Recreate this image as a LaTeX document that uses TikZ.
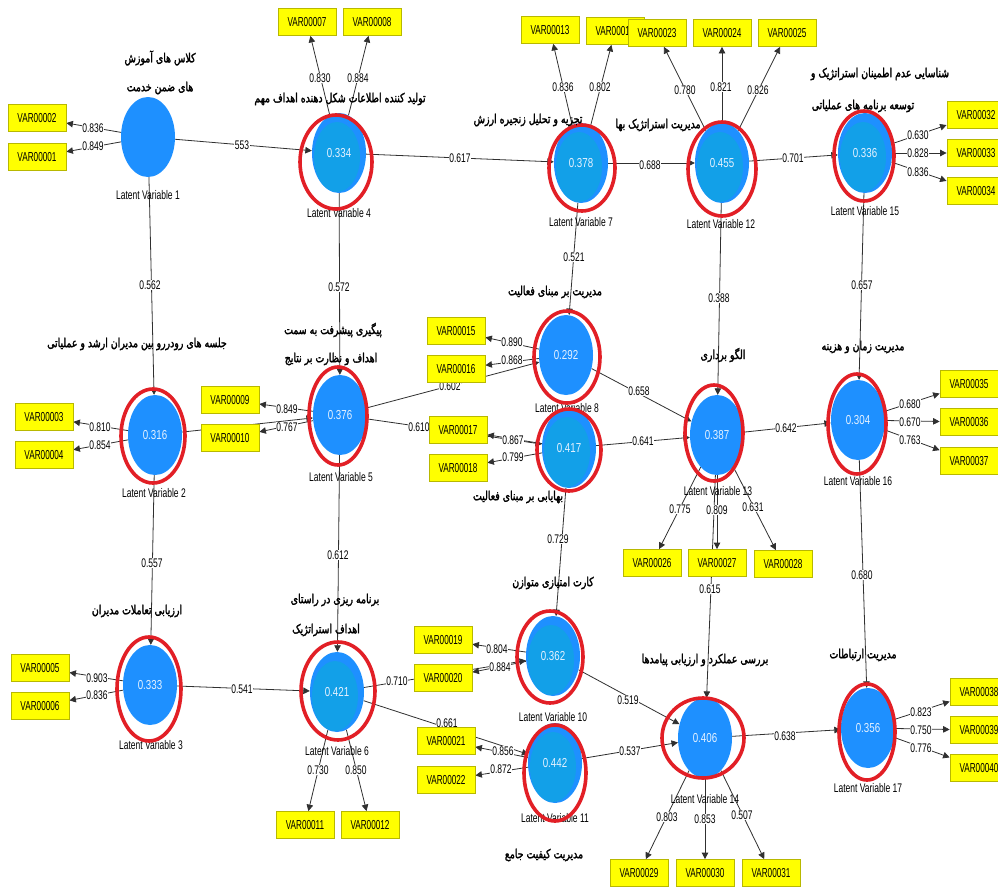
\documentclass[tikz,border=0pt]{standalone}
\usepackage{fontspec}
\usetikzlibrary{shapes.geometric,arrows.meta}
\TeXXeTstate=1
\newfontfamily\uifont[FakeStretch=0.68]{Liberation Sans}
\newfontfamily\varfont[FakeStretch=0.63]{Liberation Sans}
\newfontfamily\valfont[FakeStretch=0.75]{Liberation Sans}
\newfontfamily\fafont[Script=Arabic,FakeBold=2,FakeStretch=0.75]{DejaVu Sans}
\definecolor{lvblue}{HTML}{1E90FF}
\definecolor{lvinner}{HTML}{12A0E8}
\definecolor{ringred}{HTML}{E21F26}
\definecolor{boxyel}{HTML}{FFFF00}
\definecolor{boxedge}{HTML}{B8B800}
\definecolor{linegray}{HTML}{303030}
\definecolor{valtext}{HTML}{E6F2FF}
\pgfdeclarelayer{bg}
\pgfsetlayers{bg,main}
\begin{document}
\begin{tikzpicture}[x=1pt,y=-1pt,
 lv/.style={ellipse, fill=lvblue, minimum width=54pt, minimum height=80pt, inner sep=0pt, font=\valfont\fontsize{13}{14}\selectfont, text=valtext},
 lvi/.style={lv, path picture={\fill[lvinner] ([xshift=-2pt,yshift=-4pt]path picture bounding box.center) ellipse [x radius=23pt, y radius=35pt];}},
 var/.style={rectangle, fill=boxyel, draw=boxedge, line width=0.8pt, minimum width=58pt, minimum height=27pt, inner sep=0pt, font=\varfont\fontsize{13}{14}\selectfont},
 lvname/.style={font=\uifont\fontsize{12.5}{13}\selectfont, inner sep=0pt},
 coef/.style={fill=white, inner sep=0.6pt, font=\uifont\fontsize{12.5}{13}\selectfont},
 fa/.style={font=\fafont\fontsize{12.5}{14}\selectfont, inner sep=0pt},
 conn/.style={draw=linegray, line width=0.8pt, -{Triangle[length=6.5pt,width=6.5pt]}},
 ring/.style={draw=ringred, line width=3.6pt},
]
\useasboundingbox (0,0) rectangle (998,886);
\begin{pgfonlayer}{bg}
\fill[white] (0,0) rectangle (998,886);
\end{pgfonlayer}

% structural coefficients
\node[coef] (c1) at (242,145) {553};
\node[coef] (c2) at (460,158) {0.617};
\node[coef] (c3) at (650,165) {0.688};
\node[coef] (c4) at (793,158) {0.701};
\node[coef] (c5) at (150,285) {0.562};
\node[coef] (c6) at (152,563) {0.557};
\node[coef] (c7) at (242,689) {0.541};
\node[coef] (c8) at (339,287) {0.572};
\node[coef] (c9) at (338,555) {0.612};
\node[coef] (c10) at (450,386) {0.602};
\node[coef] (c11) at (419,427) {0.610};
\node[coef] (c12) at (574,257) {0.521};
\node[coef] (c13) at (639,391) {0.658};
\node[coef] (c14) at (643,441) {0.641};
\node[coef] (c15) at (719,298) {0.388};
\node[coef] (c16) at (862,285) {0.657};
\node[coef] (c17) at (786,428) {0.642};
\node[coef] (c18) at (558,539) {0.729};
\node[coef] (c19) at (397,681) {0.710};
\node[coef] (c20) at (447,723) {0.661};
\node[coef] (c21) at (628,700) {0.519};
\node[coef] (c22) at (630,751) {0.537};
\node[coef] (c23) at (710,589) {0.615};
\node[coef] (c24) at (785,736) {0.638};
\node[coef] (c25) at (862,575) {0.680};

% loadings
\node[coef] (d1) at (93,128) {0.836};
\node[coef] (d2) at (93,146) {0.849};
\node[coef] (d3) at (320,78) {0.830};
\node[coef] (d4) at (358,78) {0.884};
\node[coef] (d5) at (563,87) {0.836};
\node[coef] (d6) at (600,87) {0.802};
\node[coef] (d7) at (685,90) {0.780};
\node[coef] (d8) at (721,87) {0.821};
\node[coef] (d9) at (758,90) {0.826};
\node[coef] (d10) at (918,135) {0.630};
\node[coef] (d11) at (918,153) {0.828};
\node[coef] (d12) at (918,172) {0.836};
\node[coef] (d13) at (100,427) {0.810};
\node[coef] (d14) at (100,445) {0.854};
\node[coef] (d15) at (287,409) {0.849};
\node[coef] (d16) at (287,427) {0.767};
\node[coef] (d17) at (512,342) {0.890};
\node[coef] (d18) at (512,360) {0.868};
\node[coef] (d19) at (513,440) {0.867};
\node[coef] (d20) at (513,457) {0.799};
\node[coef] (d21) at (680,509) {0.775};
\node[coef] (d22) at (717,510) {0.809};
\node[coef] (d23) at (753,507) {0.631};
\node[coef] (d24) at (910,404) {0.680};
\node[coef] (d25) at (910,422) {0.670};
\node[coef] (d26) at (910,440) {0.763};
\node[coef] (d27) at (97,678) {0.903};
\node[coef] (d28) at (97,695) {0.836};
\node[coef] (d29) at (318,770) {0.730};
\node[coef] (d30) at (356,770) {0.850};
\node[coef] (d31) at (497,649) {0.804};
\node[coef] (d32) at (500,667) {0.884};
\node[coef] (d33) at (503,751) {0.856};
\node[coef] (d34) at (501,769) {0.872};
\node[coef] (d35) at (667,817) {0.803};
\node[coef] (d36) at (705,819) {0.853};
\node[coef] (d37) at (742,815) {0.507};
\node[coef] (d38) at (921,712) {0.823};
\node[coef] (d39) at (921,730) {0.750};
\node[coef] (d40) at (921,748) {0.776};

% latent variable names
\node[lvname] (n1) at (148,195) {Latent Variable 1};
\node[lvname] (n4) at (339,213) {Latent Variable 4};
\node[lvname] (n7) at (581,222) {Latent Variable 7};
\node[lvname] (n12) at (721,224) {Latent Variable 12};
\node[lvname] (n15) at (865,211) {Latent Variable 15};
\node[lvname] (n2) at (154,493) {Latent Variable 2};
\node[lvname] (n5) at (341,477) {Latent Variable 5};
\node[lvname] (n8) at (567,408) {Latent Variable 8};
\node[lvname] (n13) at (718,491) {Latent Variable 13};
\node[lvname] (n16) at (858,481) {Latent Variable 16};
\node[lvname] (n3) at (151,745) {Latent Variable 3};
\node[lvname] (n6) at (337,751) {Latent Variable 6};
\node[lvname] (n10) at (553,717) {Latent Variable 10};
\node[lvname] (n11) at (555,818) {Latent Variable 11};
\node[lvname] (n14) at (705,799) {Latent Variable 14};
\node[lvname] (n17) at (868,788) {Latent Variable 17};

% latent variables
\node[lv] (L1) at (148,137) {};
\node[lvi] (L4) at (339,153) {0.334};
\node[lvi] (L7) at (581,163) {0.378};
\node[lvi] (L12) at (722,163) {0.455};
\node[lvi] (L15) at (865,153) {0.336};
\node[lv] (L2) at (155,435) {0.316};
\node[lv] (L5) at (340,415) {0.376};
\node[lv] (L8) at (566,355) {0.292};
\node[lvi] (L9) at (569,448) {0.417};
\node[lv] (L13) at (717,435) {0.387};
\node[lv] (L16) at (858,420) {0.304};
\node[lv] (L3) at (150,685) {0.333};
\node[lvi] (L6) at (337,692) {0.421};
\node[lvi] (L10) at (553,656) {0.362};
\node[lvi] (L11) at (555,763) {0.442};
\node[lv] (L14) at (705,738) {0.406};
\node[lv] (L17) at (868,728) {0.356};

% red rings
\draw[ring] (336,162) ellipse [x radius=36pt, y radius=47pt];
\draw[ring] (582,168) ellipse [x radius=33pt, y radius=43pt];
\draw[ring] (722,169) ellipse [x radius=34pt, y radius=47pt];
\draw[ring] (864,156) ellipse [x radius=30pt, y radius=45pt];
\draw[ring] (153,436) ellipse [x radius=32pt, y radius=47pt];
\draw[ring] (338,416) ellipse [x radius=29pt, y radius=49pt];
\draw[ring] (567,357) ellipse [x radius=33pt, y radius=46pt];
\draw[ring] (569,450) ellipse [x radius=32pt, y radius=41pt];
\draw[ring] (714,433) ellipse [x radius=29pt, y radius=48pt];
\draw[ring] (857,424) ellipse [x radius=29pt, y radius=50pt];
\draw[ring] (149,689) ellipse [x radius=32pt, y radius=52pt];
\draw[ring] (338,691) ellipse [x radius=37pt, y radius=49pt];
\draw[ring] (550,657) ellipse [x radius=33pt, y radius=46pt];
\draw[ring] (555,773) ellipse [x radius=31pt, y radius=48pt];
\draw[ring] (703,738) ellipse [x radius=41pt, y radius=40pt];
\draw[ring] (867,732) ellipse [x radius=28pt, y radius=48pt];

% indicator boxes
\node[var] (V2) at (37,118) {VAR00002};
\node[var] (V1) at (37,157) {VAR00001};
\node[var] (V7) at (307,22) {VAR00007};
\node[var] (V8) at (372,22) {VAR00008};
\node[var] (V13) at (550,30) {VAR00013};
\node[var] (V14) at (615,31) {VAR00014};
\node[var] (V23) at (657,33) {VAR00023};
\node[var] (V24) at (722,33) {VAR00024};
\node[var] (V25) at (787,33) {VAR00025};
\node[var] (V32) at (976,115) {VAR00032};
\node[var] (V33) at (976,153) {VAR00033};
\node[var] (V34) at (976,191) {VAR00034};
\node[var] (V3) at (44,417) {VAR00003};
\node[var] (V4) at (44,455) {VAR00004};
\node[var] (V9) at (230,400) {VAR00009};
\node[var] (V10) at (230,438) {VAR00010};
\node[var] (V15) at (456,331) {VAR00015};
\node[var] (V16) at (456,369) {VAR00016};
\node[var] (V17) at (458,430) {VAR00017};
\node[var] (V18) at (458,468) {VAR00018};
\node[var] (V26) at (652,563) {VAR00026};
\node[var] (V27) at (717,563) {VAR00027};
\node[var] (V28) at (783,564) {VAR00028};
\node[var] (V35) at (969,384) {VAR00035};
\node[var] (V36) at (969,422) {VAR00036};
\node[var] (V37) at (969,461) {VAR00037};
\node[var] (V5) at (40,668) {VAR00005};
\node[var] (V6) at (40,706) {VAR00006};
\node[var] (V19) at (443,640) {VAR00019};
\node[var] (V20) at (443,678) {VAR00020};
\node[var] (V21) at (446,741) {VAR00021};
\node[var] (V22) at (446,780) {VAR00022};
\node[var] (V11) at (305,825) {VAR00011};
\node[var] (V12) at (370,825) {VAR00012};
\node[var] (V29) at (639,873) {VAR00029};
\node[var] (V30) at (705,873) {VAR00030};
\node[var] (V31) at (771,873) {VAR00031};
\node[var] (V38) at (979,692) {VAR00038};
\node[var] (V39) at (979,730) {VAR00039};
\node[var] (V40) at (979,768) {VAR00040};

% Persian titles
\node[fa] (t1a) at (160,58) {\beginR کلاس های آموزش\endR};
\node[fa] (t1b) at (160,88) {\beginR های ضمن خدمت\endR};
\node[fa] (t4) at (340,99) {\beginR تولید کننده اطلاعات شکل دهنده اهداف مهم\endR};
\node[fa] (t7) at (528,120) {\beginR تجزیه و تحلیل زنجیره ارزش\endR};
\node[fa] (t12) at (658,125) {\beginR مدیریت استراتژیک بها\endR};
\node[fa] (t15a) at (880,74) {\beginR شناسایی عدم اطمینان استراتژیک و\endR};
\node[fa] (t15b) at (863,106) {\beginR توسعه برنامه های عملیاتی\endR};
\node[fa] (t2) at (137,344) {\beginR جلسه های رودررو بین مدیران ارشد و عملیاتی\endR};
\node[fa] (t5a) at (333,330) {\beginR پیگیری پیشرفت به سمت\endR};
\node[fa] (t5b) at (331,359) {\beginR اهداف و نظارت بر نتایج\endR};
\node[fa] (t8) at (555,292) {\beginR مدیریت بر مبنای فعالیت\endR};
\node[fa] (t9) at (518,497) {\beginR بهایابی بر مبنای فعالیت\endR};
\node[fa] (t10) at (553,583) {\beginR کارت امتیازی متوازن\endR};
\node[fa] (t6a) at (335,600) {\beginR برنامه ریزی در راستای\endR};
\node[fa] (t6b) at (326,630) {\beginR اهداف استراتژیک\endR};
\node[fa] (t3) at (137,611) {\beginR ارزیابی تعاملات مدیران\endR};
\node[fa] (t13) at (723,355) {\beginR الگو برداری\endR};
\node[fa] (t16) at (863,347) {\beginR مدیریت زمان و هزینه\endR};
\node[fa] (t14) at (705,660) {\beginR بررسی عملکرد و ارزیابی پیامدها\endR};
\node[fa] (t17) at (863,655) {\beginR مدیریت ارتباطات\endR};
\node[fa] (t11) at (544,855) {\beginR مدیریت کیفیت جامع\endR};

\begin{pgfonlayer}{bg}
\foreach \a/\b in {L1/L4, L4/L7, L7/L12, L12/L15, L1/L2, L2/L3, L3/L6, L4/L5, L5/L6, L2/L5, L5/L8, L5/L9, L7/L8, L8/L13, L9/L13, L12/L13, L15/L16, L13/L16, L9/L10, L6/L10, L6/L11, L10/L14, L11/L14, L13/L14, L14/L17, L16/L17}
  \draw[conn] (\a) -- (\b);
\foreach \a/\b in {L1/V2, L1/V1, L4/V7, L4/V8, L7/V13, L7/V14, L12/V23, L12/V24, L12/V25, L15/V32, L15/V33, L15/V34, L2/V3, L2/V4, L5/V9, L5/V10, L8/V15, L8/V16, L9/V17, L9/V18, L13/V26, L13/V27, L13/V28, L16/V35, L16/V36, L16/V37, L3/V5, L3/V6, L6/V11, L6/V12, L10/V19, L10/V20, L11/V21, L11/V22, L14/V29, L14/V30, L14/V31, L17/V38, L17/V39, L17/V40}
  \draw[conn] (\a) -- (\b);
\end{pgfonlayer}
\end{tikzpicture}
\end{document}
